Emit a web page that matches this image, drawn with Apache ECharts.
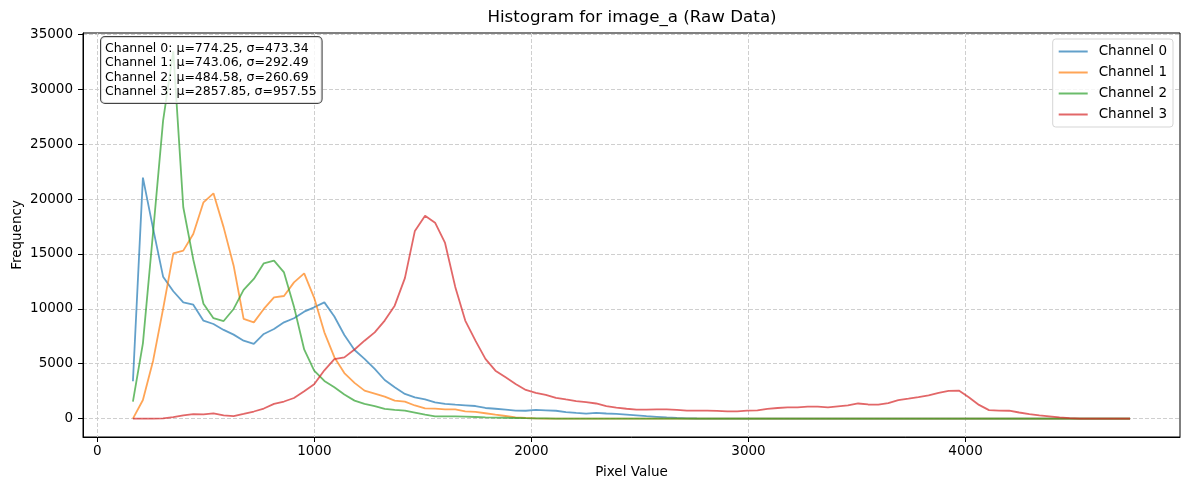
<!DOCTYPE html>
<html lang="en">

<head>
  <meta charset="UTF-8">
  <title>Histogram for image_a (Raw Data)</title>
  <script src="https://cdn.jsdelivr.net/npm/echarts@6/dist/echarts.min.js"></script>
  <style>
    html, body { margin: 0; padding: 0; background: #fff; }
    #main { width: 1189px; height: 490px; }
  </style>
</head>

<body>
  <div id="main"></div>
  <script>
    // bin centres (pixel value) and counts per channel
    const binCenters = [
      164, 210, 257, 303, 350, 396, 442, 489, 535, 582,
      628, 674, 721, 767, 814, 860, 906, 953, 999, 1046,
      1092, 1138, 1185, 1231, 1278, 1324, 1370, 1417, 1463, 1510,
      1556, 1602, 1649, 1695, 1742, 1788, 1834, 1881, 1927, 1974,
      2020, 2066, 2113, 2159, 2206, 2252, 2298, 2345, 2391, 2438,
      2484, 2530, 2577, 2623, 2670, 2716, 2762, 2809, 2855, 2902,
      2948, 2994, 3041, 3087, 3134, 3180, 3226, 3273, 3319, 3366,
      3412, 3458, 3505, 3551, 3598, 3644, 3690, 3737, 3783, 3830,
      3876, 3922, 3969, 4015, 4062, 4108, 4154, 4201, 4247, 4294,
      4340, 4386, 4433, 4479, 4526, 4572, 4618, 4665, 4711, 4758
    ];
    const channel0 = [
      3400, 21950, 17300, 12930, 11600, 10590, 10380, 8920, 8620, 8080,
      7650, 7100, 6800, 7710, 8170, 8770, 9140, 9740, 10140, 10590,
      9300, 7620, 6250, 5440, 4530, 3520, 2860, 2250, 1940, 1760,
      1490, 1340, 1270, 1210, 1150, 970, 900, 820, 730, 720,
      790, 760, 720, 600, 520, 450, 520, 470, 430, 370,
      300, 230, 170, 110, 60, 30, 15, 5, 0, 0,
      0, 0, 0, 0, 0, 0, 0, 0, 0, 0,
      0, 0, 0, 0, 0, 0, 0, 0, 0, 0,
      0, 0, 0, 0, 0, 0, 0, 0, 0, 0,
      0, 0, 0, 0, 0, 0, 0, 0, 0, 0
    ];
    const channel1 = [
      0, 1700, 5280, 10000, 15050, 15300, 16820, 19700, 20520, 17420,
      13930, 9080, 8770, 9990, 11050, 11170, 12410, 13230, 11000, 7860,
      5600, 4150, 3260, 2550, 2280, 2000, 1640, 1550, 1200, 940,
      910, 850, 850, 670, 610, 490, 360, 240, 120, 60,
      30, 10, 0, 0, 0, 0, 0, 0, 0, 0,
      0, 0, 0, 0, 0, 0, 0, 0, 0, 0,
      0, 0, 0, 0, 0, 0, 0, 0, 0, 0,
      0, 0, 0, 0, 0, 0, 0, 0, 0, 0,
      0, 0, 0, 0, 0, 0, 0, 0, 0, 0,
      0, 0, 0, 0, 0, 0, 0, 0, 0, 0
    ];
    const channel2 = [
      1550, 6860, 17000, 27140, 33450, 19250, 14500, 10470, 9150, 8890,
      9990, 11720, 12720, 14150, 14390, 13320, 10200, 6300, 4370, 3430,
      2850, 2190, 1640, 1340, 1150, 880, 790, 730, 550, 360,
      210, 210, 210, 180, 150, 120, 100, 80, 60, 40,
      30, 20, 10, 0, 0, 0, 0, 0, 0, 0,
      0, 0, 0, 0, 0, 0, 0, 0, 0, 0,
      0, 0, 0, 0, 0, 0, 0, 0, 0, 0,
      0, 0, 0, 0, 0, 0, 0, 0, 0, 0,
      0, 0, 0, 0, 0, 0, 0, 0, 0, 0,
      0, 0, 0, 0, 0, 0, 0, 0, 0, 0
    ];
    const channel3 = [
      0, 0, 0, 20, 130, 300, 420, 380, 480, 300,
      230, 430, 650, 920, 1340, 1560, 1880, 2490, 3130, 4400,
      5420, 5580, 6300, 7100, 7860, 8930, 10290, 12800, 17100, 18470,
      17850, 16000, 12000, 8930, 7100, 5440, 4370, 3760, 3160, 2610,
      2340, 2160, 1900, 1750, 1600, 1500, 1380, 1150, 1000, 900,
      820, 820, 850, 850, 790, 730, 730, 730, 700, 670,
      670, 730, 760, 880, 970, 1030, 1030, 1090, 1090, 1030,
      1120, 1200, 1380, 1290, 1270, 1420, 1680, 1820, 1960, 2120,
      2350, 2520, 2560, 1950, 1250, 780, 730, 720, 560, 420,
      290, 200, 110, 40, 10, 0, 0, 0, 0, 0
    ];

    const channelNames = ['Channel 0', 'Channel 1', 'Channel 2', 'Channel 3'];
    const channelColors = ['rgba(31,119,180,0.7)', 'rgba(255,127,14,0.7)', 'rgba(44,160,44,0.7)', 'rgba(214,39,40,0.7)'];
    const statsLines = [
      'Channel 0: μ=774.25, σ=473.34',
      'Channel 1: μ=743.06, σ=292.49',
      'Channel 2: μ=484.58, σ=260.69',
      'Channel 3: μ=2857.85, σ=957.55'
    ];
    const xTicks = [0, 1000, 2000, 3000, 4000];
    const yTicks = [0, 5000, 10000, 15000, 20000, 25000, 30000, 35000];

    const fontName = 'DejaVu Sans';
    const counts = [channel0, channel1, channel2, channel3];

    let chart = echarts.init(document.getElementById('main'));

    let option = {
      animation: false,
      backgroundColor: '#fff',
      grid: {
        left: 83,
        right: 9,
        top: 33,
        bottom: 53,
        show: true,
        borderColor: '#000',
        borderWidth: 1,
        outerBoundsMode: 'none'
      },
      graphic: [
        {
          type: 'text',
          x: 632,
          y: 18,
          style: {
            text: 'Histogram for image_a (Raw Data)',
            align: 'center',
            verticalAlign: 'middle',
            font: '16.7px "DejaVu Sans"',
            fill: '#000'
          }
        },
        {
          // stats box, top left
          type: 'text',
          x: 101,
          y: 37,
          z: 100,
          style: {
            text: statsLines.join('\n'),
            font: '12.5px "DejaVu Sans"',
            lineHeight: 14.5,
            fill: '#000',
            backgroundColor: 'rgba(255,255,255,0.8)',
            borderColor: '#444',
            borderWidth: 1,
            borderRadius: 4,
            padding: [4, 5, 4, 4]
          }
        }
      ],
      legend: {
        orient: 'vertical',
        right: 16,
        top: 39,
        padding: [5.5, 6, 5.5, 5],
        itemGap: 7,
        itemWidth: 29,
        itemHeight: 14,
        itemStyle: { opacity: 0 },
        lineStyle: { width: 2 },
        borderColor: '#d5d5d5',
        borderWidth: 1,
        borderRadius: 3,
        backgroundColor: 'rgba(255,255,255,0.8)',
        textStyle: {
          fontSize: 13.5,
          fontFamily: fontName,
          color: '#000',
          padding: [0, 0, 0, 6]
        },
        data: channelNames
      },
      xAxis: {
        type: 'value',
        min: -66,
        max: 4988,
        name: 'Pixel Value',
        nameLocation: 'middle',
        nameGap: 28,
        nameMoveOverlap: false,
        nameTextStyle: { fontSize: 13.5, fontFamily: fontName, color: '#000' },
        axisLine: { show: true, onZero: false, lineStyle: { color: '#000' } },
        axisTick: { show: true, length: 5, customValues: xTicks, lineStyle: { color: '#000' } },
        axisLabel: {
          customValues: xTicks,
          formatter: v => String(v),
          fontSize: 13.5, fontFamily: fontName, color: '#000', margin: 7
        },
        splitLine: { show: true, lineStyle: { color: '#cfcfcf', type: [4, 2] } }
      },
      yAxis: {
        type: 'value',
        min: -1672,
        max: 35122,
        name: 'Frequency',
        nameLocation: 'middle',
        nameGap: 59,
        nameMoveOverlap: false,
        nameTextStyle: { fontSize: 13.5, fontFamily: fontName, color: '#000' },
        axisLine: { show: true, onZero: false, lineStyle: { color: '#000' } },
        axisTick: { show: true, length: 5, customValues: yTicks, lineStyle: { color: '#000' } },
        axisLabel: {
          customValues: yTicks,
          formatter: v => String(v),
          fontSize: 13.5, fontFamily: fontName, color: '#000', margin: 10
        },
        splitLine: { show: true, lineStyle: { color: '#cfcfcf', type: [4, 2] } }
      },
      series: channelNames.map((name, k) => ({
        name: name,
        type: 'line',
        symbol: 'none',
        data: binCenters.map((x, i) => [x, counts[k][i]]),
        lineStyle: { width: 1.8, color: channelColors[k] },
        itemStyle: { color: channelColors[k] },
        emphasis: { disabled: true }
      }))
    };

    chart.setOption(option);
  </script>
</body>

</html>
